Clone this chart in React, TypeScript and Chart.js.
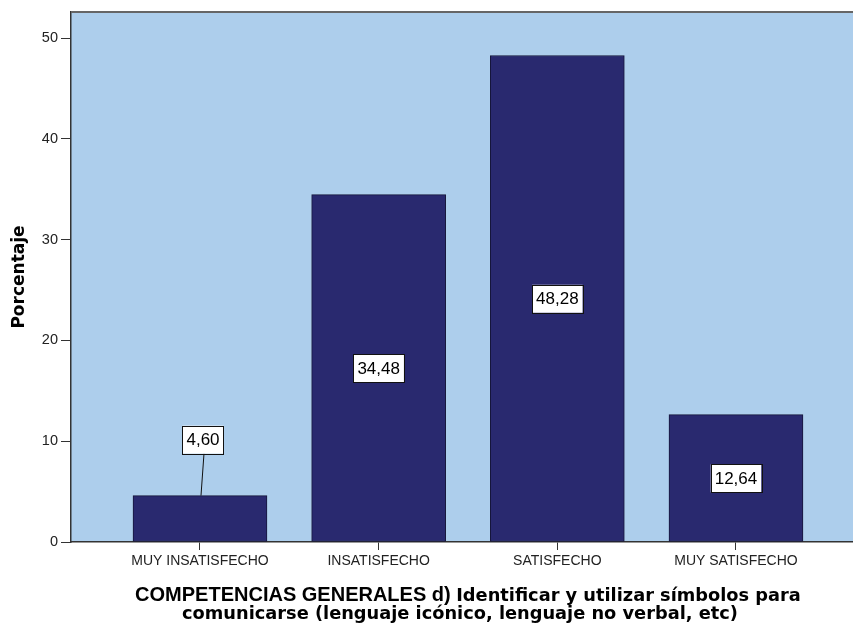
import React, { useEffect, useRef } from "react";
import { Chart, registerables } from "chart.js";

Chart.register(...registerables);

const CATEGORIES = ["MUY INSATISFECHO", "INSATISFECHO", "SATISFECHO", "MUY SATISFECHO"];
const PERCENTAGES = [4.6, 34.48, 48.28, 12.64];
const Y_TICKS = [0, 10, 20, 30, 40, 50];
const Y_TITLE = "Porcentaje";
const X_TITLE_LINE1_A = "COMPETENCIAS GENERALES d) ";
const X_TITLE_LINE1_B = "Identificar y utilizar símbolos para";
const X_TITLE_LINE2 = "comunicarse (lenguaje icónico, lenguaje no verbal, etc)";

const PLOT_BG = "#ADCEEC";
const BAR_FILL = "#29296F";
const BAR_EDGE = "#16163A";
const AXIS = "#333333";

const fmt = (v: number) => v.toFixed(2).replace(".", ",");

const decorPlugin = {
  id: "decor",
  beforeDraw(chart: any) {
    const { ctx, chartArea: a } = chart;
    ctx.save();
    ctx.fillStyle = PLOT_BG;
    ctx.fillRect(a.left, a.top, a.right - a.left, a.bottom - a.top);
    ctx.restore();
  },
  afterDraw(chart: any) {
    const { ctx, chartArea: a } = chart;
    const xs = chart.scales.x;
    ctx.save();
    // top border of the plot
    ctx.strokeStyle = "#666";
    ctx.lineWidth = 2;
    ctx.beginPath();
    ctx.moveTo(a.left, a.top);
    ctx.lineTo(a.right, a.top);
    ctx.stroke();

    // y title
    ctx.fillStyle = "#000";
    ctx.save();
    ctx.translate(24, (a.top + a.bottom) / 2);
    ctx.rotate(-Math.PI / 2);
    ctx.font = 'bold 17px "DejaVu Sans"';
    ctx.textAlign = "center";
    ctx.textBaseline = "alphabetic";
    ctx.fillText(Y_TITLE, 0, 0);
    ctx.restore();

    // x title
    const cx = xs.getPixelForValue((CATEGORIES.length - 1) / 2);
    ctx.textAlign = "left";
    ctx.textBaseline = "alphabetic";
    const fA = 'bold 20px "Liberation Sans"';
    const fB = 'bold 17.8px "DejaVu Sans"';
    ctx.font = fA;
    const wA = ctx.measureText(X_TITLE_LINE1_A).width;
    ctx.font = fB;
    const wB = ctx.measureText(X_TITLE_LINE1_B).width;
    const x0 = cx - (wA + wB) / 2;
    ctx.font = fA;
    ctx.fillText(X_TITLE_LINE1_A, x0, 601);
    ctx.font = fB;
    ctx.fillText(X_TITLE_LINE1_B, x0 + wA, 601);
    ctx.textAlign = "center";
    ctx.fillText(X_TITLE_LINE2, cx - 8, 619);
    ctx.restore();
  },
};

const labelPlugin = {
  id: "valueLabels",
  afterDatasetsDraw(chart: any) {
    const { ctx } = chart;
    const ys = chart.scales.y;
    const meta = chart.getDatasetMeta(0);
    ctx.save();
    ctx.font = '17px "Liberation Sans"';
    ctx.textAlign = "center";
    ctx.textBaseline = "middle";
    meta.data.forEach((bar: any, i: number) => {
      const v = PERCENTAGES[i];
      const text = fmt(v);
      const w = ctx.measureText(text).width + 8;
      const h = 28;
      const small = v < 8;
      const cx = bar.x + (small ? 3 : 0);
      const cy = small ? bar.y - 56 : ys.getPixelForValue(v / 2);
      if (small) {
        ctx.strokeStyle = "#111";
        ctx.lineWidth = 1;
        ctx.beginPath();
        ctx.moveTo(cx + 1, cy + h / 2);
        ctx.lineTo(bar.x + 1, bar.y);
        ctx.stroke();
      }
      ctx.fillStyle = "#fff";
      ctx.fillRect(cx - w / 2, cy - h / 2, w, h);
      ctx.strokeStyle = "#111";
      ctx.lineWidth = 1;
      ctx.strokeRect(Math.round(cx - w / 2) + 0.5, Math.round(cy - h / 2) + 0.5, Math.round(w), h);
      ctx.fillStyle = "#000";
      ctx.fillText(text, cx, cy + 1);
    });
    ctx.restore();
  },
};

export default function App() {
  const ref = useRef<HTMLCanvasElement | null>(null);
  useEffect(() => {
    if (!ref.current) return;
    const chart = new Chart(ref.current, {
      type: "bar",
      data: {
        datasets: [
          {
            data: PERCENTAGES.map((v, i) => ({ x: i, y: v })) as any,
            backgroundColor: BAR_FILL,
            borderColor: BAR_EDGE,
            borderWidth: 1,
            borderSkipped: false,
            barThickness: 134,
          },
        ],
      },
      options: {
        responsive: false,
        animation: false,
        devicePixelRatio: 1,
        layout: { padding: { top: 12, left: 0, right: 0, bottom: 0 } },
        plugins: { legend: { display: false }, tooltip: { enabled: false } },
        scales: {
          x: {
            type: "linear",
            offset: false,
            min: -0.722,
            max: 3.655,
            afterBuildTicks: (s: any) => {
              s.ticks = CATEGORIES.map((_, i) => ({ value: i }));
            },
            afterFit: (s: any) => {
              s.height = 84;
            },
            ticks: {
              callback: (v: any) => CATEGORIES[Math.round(Number(v))] ?? "",
              font: { family: "Liberation Sans", size: 14 },
              color: "#222",
              padding: 3,
              maxRotation: 0,
              autoSkip: false,
            },
            grid: { offset: false, drawOnChartArea: false, drawTicks: true, tickLength: 8, color: AXIS, lineWidth: 1 },
            border: { display: true, color: AXIS, width: 1.5 },
          },
          y: {
            min: 0,
            max: 52.6,
            afterBuildTicks: (s: any) => {
              s.ticks = Y_TICKS.map((v) => ({ value: v }));
            },
            afterFit: (s: any) => {
              s.width = 71;
            },
            ticks: {
              font: { family: "Liberation Sans", size: 14.5 },
              color: "#222",
              padding: 3,
            },
            grid: { drawOnChartArea: false, drawTicks: true, tickLength: 10, color: AXIS, lineWidth: 1 },
            border: { display: true, color: AXIS, width: 1.5 },
          },
        },
      },
      plugins: [decorPlugin, labelPlugin],
    });
    return () => chart.destroy();
  }, []);
  return (
    <div style={{ position: "fixed", left: 0, top: 0, width: 853, height: 626, background: "#fff" }}>
      <canvas ref={ref} width={853} height={626} style={{ display: "block" }} />
    </div>
  );
}
